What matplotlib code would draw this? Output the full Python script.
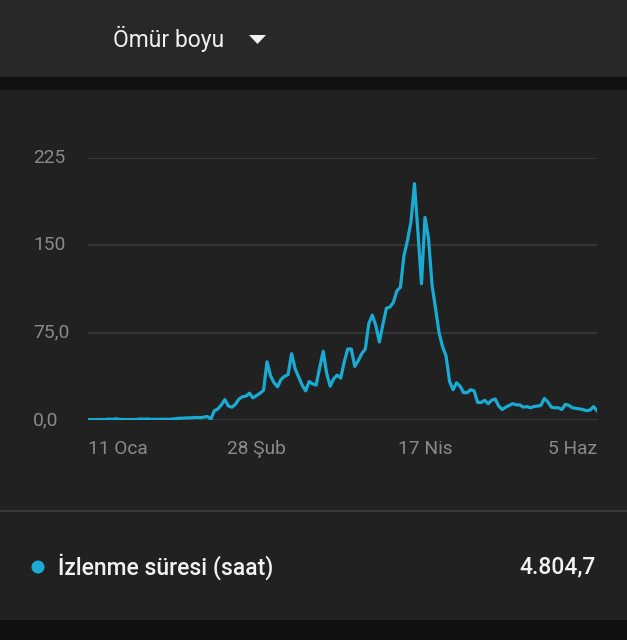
import matplotlib.pyplot as plt
from matplotlib.patches import Rectangle, Polygon, Ellipse

plt.rcParams['font.family'] = ['Roboto', 'DejaVu Sans']

# daily watch time (hours), 11 Jan -> 5 Jun
watch_hours = [
    0.3, 0.3, 0.3, 0.4, 0.3, 0.4, 0.8, 0.5, 1.0, 0.5,
    0.4, 0.3, 0.4, 0.3, 0.5, 0.9, 0.6, 0.9, 0.5, 0.6,
    0.6, 0.7, 0.6, 0.6, 0.8, 1.2, 1.5, 1.5, 1.8, 1.8,
    2.0, 2.2, 2.0, 2.5, 3.0, 0.8, 8.0, 9.5, 13.0, 17.5,
    12.0, 11.0, 13.5, 18.0, 20.0, 20.5, 23.0, 19.0, 21.0, 23.0,
    25.5, 50.0, 38.0, 32.0, 28.5, 35.0, 37.5, 39.0, 57.0, 44.0,
    37.0, 30.0, 25.0, 33.0, 31.0, 30.0, 45.0, 59.0, 40.0, 29.0,
    35.5, 38.5, 36.0, 50.0, 61.0, 61.0, 46.0, 51.0, 57.0, 61.0,
    83.0, 90.0, 81.0, 67.0, 82.0, 96.0, 97.0, 101.0, 111.0, 114.0,
    141.0, 154.0, 170.0, 203.0, 161.0, 117.0, 174.0, 156.0, 116.0, 96.0,
    75.0, 63.0, 55.0, 33.0, 26.0, 32.0, 29.0, 23.5, 23.5, 26.0,
    25.0, 15.0, 15.0, 17.0, 14.0, 17.0, 18.0, 12.0, 9.0, 11.0,
    12.5, 14.0, 13.0, 13.0, 11.0, 11.5, 10.5, 11.5, 12.0, 12.5,
    18.5, 15.5, 11.0, 10.5, 10.5, 9.0, 13.5, 12.5, 10.5, 10.0,
    9.5, 9.0, 8.0, 8.5, 11.5, 8.0,
]
days = list(range(len(watch_hours)))

ytick_vals = [0, 75, 150, 225]
ytick_labels = ["0,0", "75,0", "150", "225"]
xtick_days = [0, 48, 96, 145]
xtick_labels = ["11 Oca", "28 Şub", "17 Nis", "5 Haz"]
period_label = "Ömür boyu"
metric_label = "İzlenme süresi (saat)"
metric_total = "4.804,7"

W, H = 627, 640
LINE = '#19abd3'
GRID = '#3b3b3b'
MUTED = '#8a8a8a'


def fx(px):
    return px / W


def fy(py):
    return 1 - py / H


fig = plt.figure(figsize=(W / 100, H / 100), dpi=100, facecolor='#212121')

# header + separators
fig.patches.append(Rectangle((0, fy(77)), 1, 77 / H, transform=fig.transFigure,
                             facecolor='#282828', edgecolor='none', zorder=0))
fig.patches.append(Rectangle((0, fy(90)), 1, 13 / H, transform=fig.transFigure,
                             facecolor='#111111', edgecolor='none', zorder=0))
fig.patches.append(Rectangle((0, 0), 1, 20 / H, transform=fig.transFigure,
                             facecolor='#0f0f0f', edgecolor='none', zorder=0))
fig.patches.append(Rectangle((0, fy(512)), 1, 2 / H, transform=fig.transFigure,
                             facecolor='#3a3a3a', edgecolor='none', zorder=0))

fig.text(fx(113), fy(39), period_label, color='#f0f0f0', fontsize=16.5,
         ha='left', va='center')
fig.patches.append(Polygon([(fx(249), fy(35)), (fx(266), fy(35)), (fx(257.5), fy(44))],
                           closed=True, transform=fig.transFigure,
                           facecolor='#f0f0f0', edgecolor='none'))

ax = fig.add_axes([fx(88), fy(420), (597 - 88) / W, (420 - 158) / H])
ax.set_facecolor('none')
ax.plot(days, watch_hours, color=LINE, lw=2.3, solid_joinstyle='round', zorder=3)
ax.set_xlim(days[0], days[-1])
ax.set_ylim(0, 225)
for v in ytick_vals:
    ax.axhline(v, color=GRID, lw=1.2, zorder=1)
for s in ax.spines.values():
    s.set_visible(False)
ax.set_xticks([])
ax.set_yticks([])

for v, lab in zip(ytick_vals, ytick_labels):
    ax.text((33 - 88) / (597 - 88), v, lab, transform=ax.get_yaxis_transform(),
            color=MUTED, fontsize=13.8, ha='left', va='center')

aligns = ['left', 'center', 'center', 'right']
for d, lab, ha in zip(xtick_days, xtick_labels, aligns):
    ax.text(d, -29 / 262, lab, transform=ax.get_xaxis_transform(),
            color=MUTED, fontsize=13.8, ha=ha, va='center')

fig.patches.append(Ellipse((fx(38), fy(567)), 13 / W, 13 / H, transform=fig.transFigure,
                           facecolor=LINE, edgecolor='none'))
fig.text(fx(58), fy(567), metric_label, color='#f2f2f2', fontsize=16.5,
         fontweight='medium', ha='left', va='center')
fig.text(fx(596), fy(567), metric_total, color='#f2f2f2', fontsize=16.5,
         fontweight='medium', ha='right', va='center')

fig.savefig('out.png', dpi=100, facecolor=fig.get_facecolor())
